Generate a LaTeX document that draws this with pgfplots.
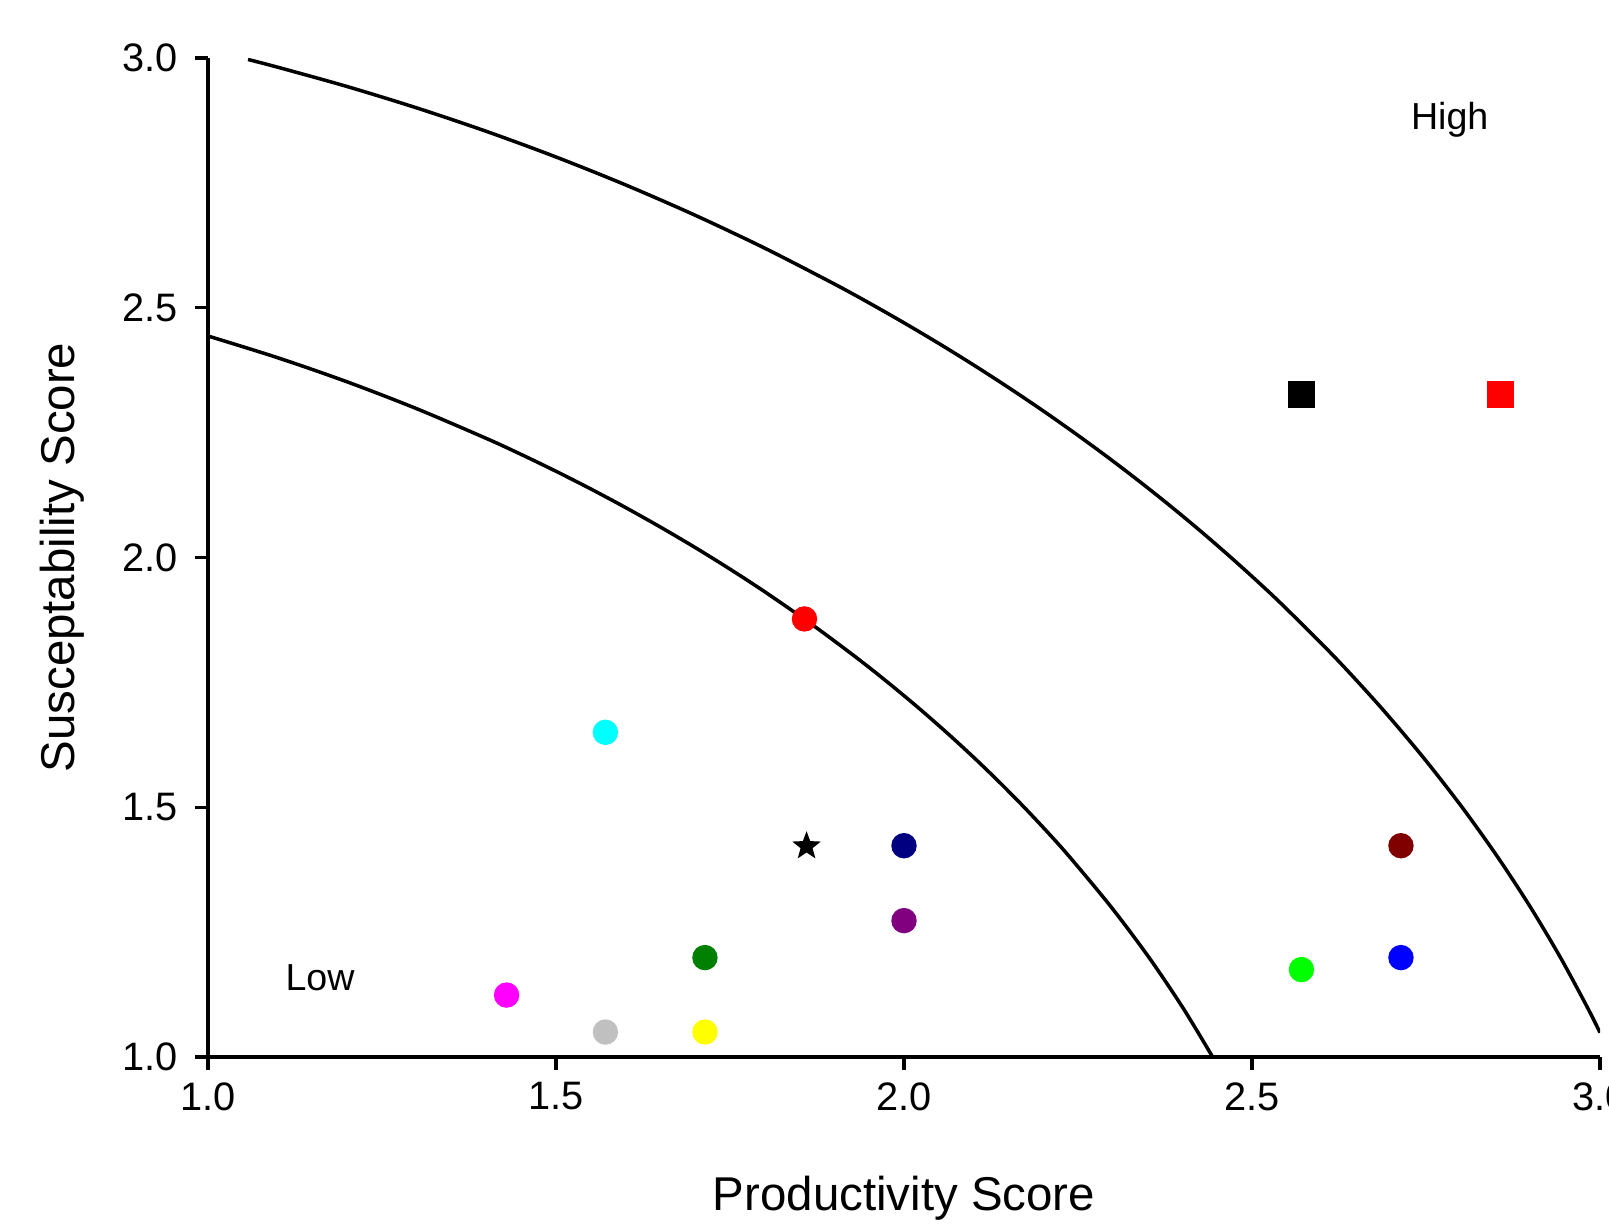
\documentclass[border=0pt]{standalone}
\usepackage{fontspec}
\setmainfont{Liberation Sans}
\usepackage{pgfplots}
\pgfplotsset{compat=1.18}
\pgfdeclareplotmark{fstar}{%
  \pgfpathmoveto{\pgfpointpolar{90}{\pgfplotmarksize}}%
  \pgfpathlineto{\pgfpointpolar{126}{0.42\pgfplotmarksize}}%
  \pgfpathlineto{\pgfpointpolar{162}{\pgfplotmarksize}}%
  \pgfpathlineto{\pgfpointpolar{198}{0.42\pgfplotmarksize}}%
  \pgfpathlineto{\pgfpointpolar{234}{\pgfplotmarksize}}%
  \pgfpathlineto{\pgfpointpolar{270}{0.42\pgfplotmarksize}}%
  \pgfpathlineto{\pgfpointpolar{306}{\pgfplotmarksize}}%
  \pgfpathlineto{\pgfpointpolar{342}{0.42\pgfplotmarksize}}%
  \pgfpathlineto{\pgfpointpolar{18}{\pgfplotmarksize}}%
  \pgfpathlineto{\pgfpointpolar{54}{0.42\pgfplotmarksize}}%
  \pgfpathclose
  \pgfusepathqfillstroke
}
\definecolor{cred}{RGB}{255,0,0}
\definecolor{ccyan}{RGB}{0,255,255}
\definecolor{cnavy}{RGB}{0,0,128}
\definecolor{cpurple}{RGB}{128,0,128}
\definecolor{cgreen}{RGB}{0,128,0}
\definecolor{cmagenta}{RGB}{255,0,255}
\definecolor{cgray}{RGB}{192,192,192}
\definecolor{cyellow}{RGB}{255,255,0}
\definecolor{cmaroon}{RGB}{128,0,0}
\definecolor{clime}{RGB}{0,255,0}
\definecolor{cblue}{RGB}{0,0,255}
\begin{document}
\begin{tikzpicture}
\begin{axis}[
  scale only axis,
  width=13.92cm, height=9.99cm,
  xmin=1, xmax=3, ymin=1, ymax=3,
  axis lines*=left,
  axis line style={line width=0.9pt},
  tick align=outside,
  major tick length=0.13cm,
  tick style={line width=0.9pt, black},
  xtick={1,1.5,2,2.5,3},
  ytick={1,1.5,2,2.5,3},
  xticklabel style={/pgf/number format/.cd, fixed, fixed zerofill, precision=1},
  yticklabel style={xshift=-0.05cm, /pgf/number format/.cd, fixed, fixed zerofill, precision=1},
  /pgf/number format/assume math mode=true,
  ticklabel style={font=\fontsize{11.3}{13}\selectfont},
  label style={font=\fontsize{13.5}{16}\selectfont},
  xlabel={Productivity Score},
  ylabel={Susceptability Score},
  xlabel style={at={(axis description cs:0.5,-0.141)}, anchor=center},
  ylabel style={at={(axis description cs:-0.1049,0.5)}, anchor=center, rotate=0},
  clip=true,
]
% inner arc
\addplot[black, line width=1pt, smooth] coordinates {
(1.0,2.4434)(1.1,2.4)(1.2,2.3516)(1.3,2.2978)(1.4,2.2383)(1.45,2.2063)(1.5,2.1726)
(1.55,2.1372)(1.6,2.1)(1.65,2.0609)(1.7,2.0199)(1.75,1.9767)(1.8,1.9313)(1.8668,1.8668)
(1.9313,1.8)(1.9767,1.75)(2.0199,1.7)(2.0609,1.65)(2.1,1.6)(2.1372,1.55)(2.1726,1.5)
(2.2063,1.45)(2.2383,1.4)(2.2978,1.3)(2.3516,1.2)(2.4,1.1)(2.4434,1.0)(2.4632,0.95)
};
% outer arc
\addplot[black, line width=1pt, smooth] coordinates {
(1.0575,2.9970)(1.1,2.9816)(1.2,2.9428)(1.3,2.9)(1.4,2.8531)(1.5,2.8018)(1.6,2.7459)
(1.7,2.6851)(1.8,2.6192)(1.9,2.5475)(1.95,2.5095)(2.0,2.4698)(2.05,2.4285)(2.1,2.3854)
(2.15,2.3404)(2.2,2.2935)(2.2472,2.2472)(2.2935,2.2)(2.3404,2.15)(2.3854,2.1)(2.4285,2.05)
(2.4698,2.0)(2.5095,1.95)(2.5475,1.9)(2.6192,1.8)(2.6851,1.7)(2.7459,1.6)(2.8018,1.5)
(2.8531,1.4)(2.9,1.3)(2.9428,1.2)(2.9816,1.1)(3.0,1.0488)
};
% points
\addplot[only marks, mark=*, mark size=0.12cm, color=cred] coordinates {(1.857,1.877)};
\addplot[only marks, mark=*, mark size=0.12cm, color=ccyan] coordinates {(1.571,1.650)};
\addplot[only marks, mark=fstar, mark size=0.13cm, color=black] coordinates {(1.860,1.422)};
\addplot[only marks, mark=*, mark size=0.12cm, color=cnavy] coordinates {(2.0,1.423)};
\addplot[only marks, mark=*, mark size=0.12cm, color=cpurple] coordinates {(2.0,1.273)};
\addplot[only marks, mark=*, mark size=0.12cm, color=cgreen] coordinates {(1.714,1.199)};
\addplot[only marks, mark=*, mark size=0.12cm, color=cmagenta] coordinates {(1.429,1.124)};
\addplot[only marks, mark=*, mark size=0.12cm, color=cgray] coordinates {(1.571,1.050)};
\addplot[only marks, mark=*, mark size=0.12cm, color=cyellow] coordinates {(1.714,1.050)};
\addplot[only marks, mark=square*, mark size=0.13cm, color=black] coordinates {(2.571,2.326)};
\addplot[only marks, mark=square*, mark size=0.13cm, color=cred] coordinates {(2.857,2.326)};
\addplot[only marks, mark=*, mark size=0.12cm, color=cmaroon] coordinates {(2.714,1.423)};
\addplot[only marks, mark=*, mark size=0.12cm, color=clime] coordinates {(2.571,1.175)};
\addplot[only marks, mark=*, mark size=0.12cm, color=cblue] coordinates {(2.714,1.199)};
\node[font=\fontsize{10.7}{12}\selectfont] at (axis cs:2.784,2.876) {High};
\node[font=\fontsize{10.7}{12}\selectfont] at (axis cs:1.161,1.158) {Low};
\end{axis}
\pgfresetboundingbox
\useasboundingbox (-2.08,-1.68) rectangle (14.01,10.57);
\end{tikzpicture}
\end{document}
